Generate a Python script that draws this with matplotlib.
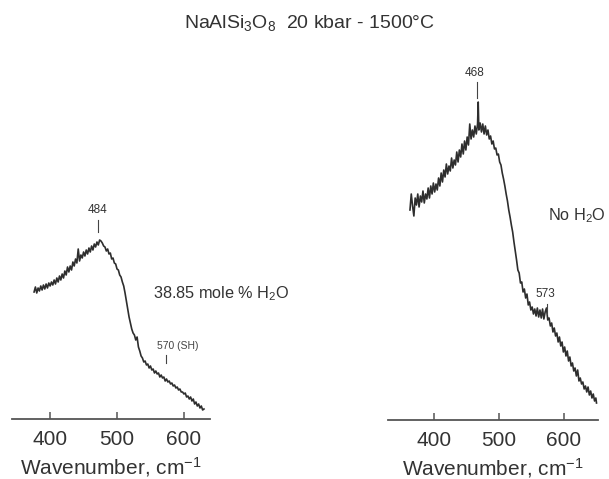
import matplotlib
matplotlib.use('Agg')
import matplotlib.pyplot as plt

plt.rcParams['font.family'] = ['Liberation Sans', 'DejaVu Sans']
plt.rcParams['mathtext.fontset'] = 'custom'
plt.rcParams['mathtext.rm'] = 'Liberation Sans'
plt.rcParams['mathtext.it'] = 'Liberation Sans:italic'
plt.rcParams['mathtext.default'] = 'regular'

# 38.85 mole % H2O spectrum (wavenumber, relative intensity)
wet_wn = list(range(376, 632, 2))
wet_int = [127, 132, 126, 131, 128, 133, 129, 134, 130, 135, 131, 136, 133, 137,
           134, 139, 135, 141, 137, 143, 139, 145, 141, 148, 144, 152, 147, 153,
           149, 157, 153, 160, 156, 170, 158, 164, 161, 167, 163, 169, 165, 171,
           167, 173, 169, 175, 172, 177, 174, 179, 178, 176, 173, 172, 168, 170,
           165, 166, 160, 161, 156, 155, 150, 149, 144, 142, 137, 133, 126, 118,
           110, 102, 96, 90, 86, 84, 79, 82, 72, 68, 63, 61, 57, 58,
           54, 55, 51, 53, 49, 50, 46, 48, 45, 46, 42, 44, 41, 42,
           38, 40, 37, 38, 35, 36, 33, 34, 31, 32, 29, 30, 27, 27,
           25, 26, 22, 23, 20, 22, 18, 20, 15, 17, 13, 15, 11, 13,
           9, 10]

# anhydrous spectrum
dry_wn = [363, 365, 367, 369, 371, 373, 375, 377, 379, 381, 383, 385, 387, 389,
          391, 393, 395, 397, 399, 401, 403, 405, 407, 409, 411, 413, 415, 417,
          419, 421, 423, 425, 427, 429, 431, 433, 435, 437, 439, 441, 443, 445,
          447, 449, 451, 453, 455, 457, 459, 461, 463, 465, 467, 468, 469, 471,
          473, 475, 477, 479, 481, 483, 485, 487, 489, 491, 493, 495, 497, 499,
          501, 503, 505, 507, 509, 511, 513, 515, 517, 519, 521, 523, 525, 527,
          529, 531, 533, 535, 537, 539, 541, 543, 545, 547, 549, 551, 553, 555,
          557, 559, 561, 563, 565, 567, 569, 571, 573, 575, 577, 579, 581, 583,
          585, 587, 589, 591, 593, 595, 597, 599, 601, 603, 605, 607, 609, 611,
          613, 615, 617, 619, 621, 623, 625, 627, 629, 631, 633, 635, 637, 639,
          641, 643, 645, 647, 649, 650]
dry_int = [210, 226, 214, 204, 222, 215, 226, 213, 224, 218, 229, 217, 226, 221,
           232, 222, 234, 226, 237, 228, 236, 230, 242, 234, 247, 238, 250, 243,
           256, 246, 254, 249, 262, 252, 260, 255, 268, 258, 270, 263, 276, 266,
           279, 270, 283, 275, 296, 281, 290, 283, 294, 286, 296, 318, 290, 297,
           288, 296, 286, 294, 285, 290, 281, 284, 276, 279, 271, 272, 265, 266,
           258, 255, 247, 241, 234, 226, 219, 210, 203, 195, 188, 178, 169, 160,
           150, 147, 137, 138, 128, 131, 122, 126, 115, 118, 110, 113, 106, 111,
           104, 112, 103, 110, 102, 111, 101, 108, 112, 100, 102, 94, 97, 88,
           92, 84, 87, 78, 83, 74, 78, 68, 73, 64, 69, 59, 63, 54,
           57, 49, 52, 44, 50, 39, 42, 36, 38, 31, 34, 28, 33, 25,
           29, 22, 26, 19, 22, 17]

ticks = [400, 500, 600]
W, H = 609, 479
ink = '#2e2e2e'
txt = '#333333'


def px_axes(x0, x1, ytop, ybot):
    return [x0 / W, 1 - ybot / H, (x1 - x0) / W, (ybot - ytop) / H]


def style(ax, xlim, ylim):
    ax.set_xlim(*xlim)
    ax.set_ylim(*ylim)
    for s in ['top', 'left', 'right']:
        ax.spines[s].set_visible(False)
    ax.spines['bottom'].set_color('#555555')
    ax.spines['bottom'].set_linewidth(1.3)
    ax.set_yticks([])
    ax.set_xticks(ticks)
    ax.tick_params(axis='x', direction='in', length=5, width=1.1, color='#555555',
                   labelsize=15, labelcolor=txt, pad=8)
    ax.set_xlabel('Wavenumber, cm$^{-1}$', fontsize=15, color=txt, labelpad=4)
    ax.patch.set_alpha(0)


fig = plt.figure(figsize=(6.09, 4.79), dpi=100)

ax1 = fig.add_axes(px_axes(12, 210, 170, 419))
style(ax1, (343, 639), (0, 249))
ax1.plot(wet_wn, wet_int, color=ink, lw=1.2)
ax1.text(471.6, 209, '484', fontsize=8.5, ha='center', va='center', color=txt)
ax1.plot([471.6, 471.6], [199, 187], color='#444444', lw=0.8)
ax1.text(553.7, 125, '38.85 mole % H$_2$O', fontsize=11.7, ha='left', va='center',
         color=txt, clip_on=False)
ax1.text(559.7, 73, '570 (SH)', fontsize=7.5, ha='left', va='center', color='#444444')
ax1.plot([573, 573], [64, 56], color='#444444', lw=0.8)

ax2 = fig.add_axes(px_axes(388, 598, 60, 420))
style(ax2, (329.2, 652.3), (0, 360))
ax2.plot(dry_wn, dry_int, color=ink, lw=1.2)
ax2.text(463, 347, '468', fontsize=8.5, ha='center', va='center', color=txt)
ax2.plot([466.5, 466.5], [338, 322], color='#444444', lw=0.8)
ax2.text(575.4, 204, 'No H$_2$O', fontsize=11.7, ha='left', va='center', color=txt,
         clip_on=False)
ax2.text(570.8, 126, '573', fontsize=8.5, ha='center', va='center', color=txt)
ax2.plot([574, 574], [116, 106], color='#444444', lw=0.8)

fig.text(184 / W, 1 - 28 / H, 'NaAlSi$_3$O$_8$  20 kbar - 1500°C', fontsize=14,
         ha='left', va='baseline', color=txt)

fig.savefig('out.png', dpi=100)
